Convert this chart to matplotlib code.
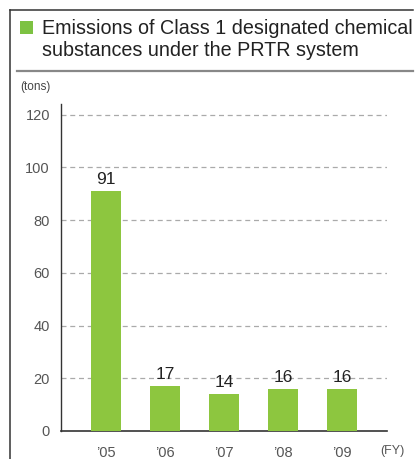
import matplotlib.pyplot as plt
from matplotlib.lines import Line2D
from matplotlib.patches import Rectangle

years = ["\u201905", "\u201906", "\u201907", "\u201908", "\u201909"]
emissions = [91, 17, 14, 16, 16]
yticks = [0, 20, 40, 60, 80, 100, 120]

plt.rcParams['font.family'] = ['Liberation Sans', 'DejaVu Sans']

fig = plt.figure(figsize=(4.15, 4.59), dpi=100)

# outer frame and title block
fig.add_artist(Line2D([10/415, 10/415], [0, 1 - 10/459], color="#333333", lw=1.1))
fig.add_artist(Line2D([10/415, 413/415], [1 - 10/459, 1 - 10/459], color="#333333", lw=1.1))
fig.add_artist(Line2D([17/415, 413/415], [1 - 71/459, 1 - 71/459], color="#888888", lw=1.6))
fig.add_artist(Rectangle((20/415, 1 - 34/459), 13/415, 13/459, color="#7DC242", lw=0))
fig.text(42/415, 1 - 28/459, "Emissions of Class 1 designated chemical",
         fontsize=14.2, color="#222222", va="center")
fig.text(42/415, 1 - 51/459, "substances under the PRTR system",
         fontsize=14.2, color="#222222", va="center")
fig.text(20/415, 1 - 87/459, "(tons)", fontsize=8.5, color="#444444", va="center")

ax = fig.add_axes([61/415, 1 - 431/459, 326/415, (431 - 104)/459])
x = range(len(years))
ax.bar(x, emissions, width=0.525, color="#8DC63F", zorder=3)
for xi, v in zip(x, emissions):
    ax.text(xi, v + 1.5, str(v), ha="center", va="bottom", fontsize=12.5, color="#222222")

ax.set_xlim(-0.763, 4.763)
ax.set_ylim(0, 124)
ax.set_yticks(yticks)
ax.set_yticklabels([str(t) for t in yticks], fontsize=10.5, color="#555555")
ax.set_xticks(list(x))
ax.set_xticklabels(years, fontsize=10.5, color="#555555")
ax.tick_params(length=0, axis="y", pad=8)
ax.tick_params(length=0, axis="x", pad=11)
for t in yticks[1:]:
    ax.axhline(t, color="#AAAAAA", lw=0.9, ls=(0, (4, 3)), zorder=1)

for s in ["top", "right"]:
    ax.spines[s].set_visible(False)
ax.spines["left"].set_color("#333333")
ax.spines["bottom"].set_color("#333333")
ax.spines["left"].set_linewidth(1.0)
ax.spines["bottom"].set_linewidth(1.2)

fig.text(380/415, 1 - 451/459, "(FY)", fontsize=9, color="#555555", va="center")

fig.savefig("out.png", dpi=100)
